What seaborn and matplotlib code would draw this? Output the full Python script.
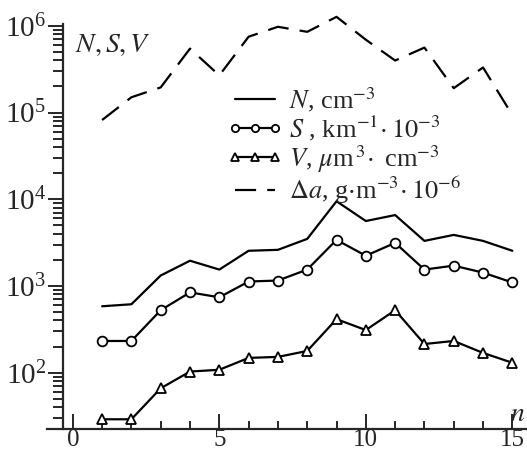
import numpy as np
import pandas as pd
import matplotlib
matplotlib.use("Agg")
import matplotlib.pyplot as plt
import seaborn as sns
from matplotlib.ticker import MultipleLocator, FixedLocator, LogLocator

# ── Data ──────────────────────────────────────────────────────────────
n = list(range(1, 16))
N_cm3 = [583, 615, 1320, 1955, 1545, 2545, 2610, 3490, 9480, 5610, 6570, 3310, 3880, 3310, 2545]
S_km = [232, 232, 525, 843, 740, 1125, 1155, 1545, 3400, 2230, 3140, 1545, 1715, 1425, 1097]
V_um = [29, 29, 66, 103, 108, 148, 152, 178, 414, 310, 525, 214, 232, 169, 130]
delta_a = [82000, 150000, 195000, 546000, 268000, 749000, 975000, 853000,
           1270000, 692000, 398000, 561000, 191000, 331000, 93500]

labels = [r"$N$, cm$^{-3}$",
          r"$S$ , km$^{-1}\!\cdot 10^{-3}$",
          r"$V$, $\mu$m$^{\,3}\!\cdot$ cm$^{-3}$",
          r"$\Delta a$, g$\cdot$m$^{-3}\!\cdot 10^{-6}$"]

sns.set_style("ticks")
plt.rcParams["font.family"] = ["Liberation Serif", "DejaVu Serif"]
plt.rcParams["mathtext.fontset"] = "stix"

fig = plt.figure(figsize=(5.27, 4.55), dpi=100)
ax = fig.add_axes([47 / 527, 26 / 455, 480 / 527, 405 / 455])

lw = 1.6
sns.lineplot(x=n, y=N_cm3, ax=ax, color="black", linewidth=lw)
sns.lineplot(x=n, y=S_km, ax=ax, color="black", linewidth=lw, marker="o",
             markersize=7, markerfacecolor="white", markeredgecolor="black",
             markeredgewidth=1.3)
sns.lineplot(x=n, y=V_um, ax=ax, color="black", linewidth=lw, marker="^",
             markersize=7.5, markerfacecolor="white", markeredgecolor="black",
             markeredgewidth=1.3)
sns.lineplot(x=n, y=delta_a, ax=ax, color="black", linewidth=lw,
             linestyle=(0, (9.5, 5.0)))
for ln in ax.lines:
    ln.set_clip_on(False)

ax.set_yscale("log")
ax.set_ylim(22.4, 1.05e6)
ax.set_xlim(-0.88, 15.5)
ax.set_xlabel("")
ax.set_ylabel("")

ax.yaxis.set_major_locator(LogLocator(base=10, numticks=10))
ax.yaxis.set_minor_locator(LogLocator(base=10, subs=np.arange(2, 10), numticks=20))
ax.xaxis.set_major_locator(FixedLocator([0, 5, 10, 15]))
ax.xaxis.set_minor_locator(MultipleLocator(1))

for s in ["top", "right"]:
    ax.spines[s].set_visible(False)
ax.spines["left"].set_position(("data", -0.34))
ax.spines["left"].set_linewidth(1.6)
ax.spines["bottom"].set_linewidth(1.6)

ax.tick_params(axis="y", which="major", direction="out", length=11, width=1.4,
               labelsize=21, pad=1)
ax.tick_params(axis="y", which="minor", direction="out", length=7, width=1.4)
ax.tick_params(axis="x", which="major", direction="in", length=11, width=1.4,
               labelsize=18, pad=0)
ax.tick_params(axis="x", which="minor", direction="in", length=6, width=1.4)

leg = ax.legend(ax.lines[:4], labels, loc="upper left",
                bbox_to_anchor=(0.375, 0.85), frameon=False, fontsize=19,
                handlelength=2.1, handletextpad=0.25, labelspacing=0.0,
                borderpad=0, borderaxespad=0, numpoints=3, markerscale=0.75)

fig.text(75 / 527, 1 - 52 / 455, r"$N,S,V$", fontsize=20, va="baseline")
fig.text(510 / 527, 1 - 421 / 455, r"$n$", fontsize=20, va="baseline")

fig.savefig("out.png", dpi=100)
